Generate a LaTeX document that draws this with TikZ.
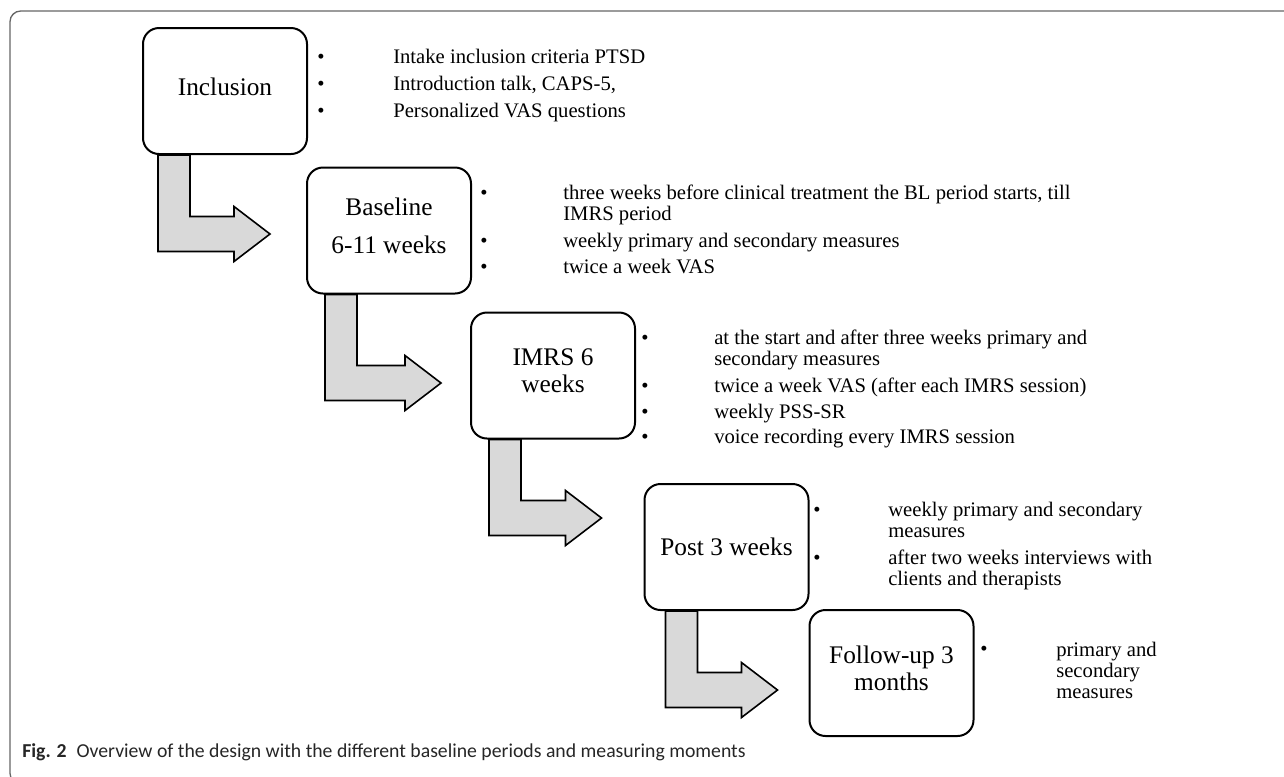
\documentclass[tikz,border=0pt]{standalone}
\usepackage{fontspec}
\setmainfont{Liberation Serif}
\newfontfamily\capfont{Carlito}
\usetikzlibrary{calc}
\newcommand\boxfont{\fontsize{19}{20}\selectfont}
\newcommand\itemfont{\fontsize{15.5}{15.8}\selectfont}
\newcommand\bitem[5]{%
  \node[bul] (#1b) at (#2,#4) {\textbullet};
  \node[itm] (#1) at (#3,#4) {#5};}
\newcommand\twolines[2]{\vtop{\hbox{\strut #1}\hbox{\strut #2}}}
\newcommand\bentarrow[4]{% start node, start offset, end node, tip offset
  \coordinate (S) at ($(#1.south west)+(#2,0)$);
  \coordinate (T) at ($(#3.west)+#4$);
  \draw[bent] (S) -- ($(S)+(32,0)$) -- ($(T -| S)+(32,-17.5)$)
    -- ($(T)+(-36,-17.5)$) -- ($(T)+(-36,-27.5)$) -- (T)
    -- ($(T)+(-36,27.5)$) -- ($(T)+(-36,17.5)$)
    -- ($(T -| S)+(0,17.5)$) -- cycle;}
\begin{document}
\begin{tikzpicture}[x=0.75pt,y=-0.75pt,
  box/.style={draw, line width=1.5pt, rounded corners=12pt, minimum width=123pt,
    minimum height=94.5pt, inner sep=0pt, align=center, font=\boxfont, fill=white,
    text depth=7pt},
  bent/.style={draw, fill=black!15, line width=1.2pt, line join=miter},
  bul/.style={anchor=base, inner sep=0pt, font=\itemfont},
  itm/.style={anchor=base west, inner sep=0pt, font=\itemfont},
  frame/.style={draw=black!60, line width=1pt, rounded corners=8pt}]
\useasboundingbox (0,0) rectangle (1284,776);
\begin{scope}
\clip (0,0) rectangle (1284,776);
\draw[frame] (1300,11) -- (10,11) -- (10,784) -- (1300,784);
\end{scope}
% boxes
\node[box] (inc)  at (225,91)    {Inclusion};
\node[box] (bl)   at (389,230.5) {Baseline\\[8.5pt]6-11 weeks};
\node[box] (imrs) at (553,375.5) {IMRS 6\\weeks};
\node[box, text depth=0pt] (post) at (726.5,547) {Post 3 weeks};
\node[box] (fu)   at (891.5,673) {Follow-up 3\\months};
% arrows
\bentarrow{inc}{16}{bl}{(-36,3.5)}
\bentarrow{bl}{19}{imrs}{(-29,7.5)}
\bentarrow{imrs}{19}{post}{(-42,-29)}
\bentarrow{post}{22}{fu}{(-31,17)}
% bullet lists
\bitem{i1}{321}{393}{63}{Intake inclusion criteria PTSD}
\bitem{i2}{321}{393}{90}{Introduction talk, CAPS-5,}
\bitem{i3}{321}{393}{117}{Personalized VAS questions}
\bitem{b1}{484}{563}{199}{\twolines{three weeks before clinical treatment the BL period starts, till}{IMRS period}}
\bitem{b2}{484}{563}{247}{weekly primary and secondary measures}
\bitem{b3}{484}{563}{273}{twice a week VAS}
\bitem{m1}{645}{714}{344}{\twolines{at the start and after three weeks primary and}{secondary measures}}
\bitem{m2}{645}{714}{392}{twice a week VAS (after each IMRS session)}
\bitem{m3}{645}{714}{418}{weekly PSS-SR}
\bitem{m4}{645}{714}{443}{voice recording every IMRS session}
\bitem{p1}{817}{888}{516}{\twolines{weekly primary and secondary}{measures}}
\bitem{p2}{817}{888}{564}{\twolines{after two weeks interviews with}{clients and therapists}}
\node[bul] (f1b) at (984,655) {\textbullet};
\node[itm] (f1) at (1056,656) {\vtop{\hbox{\strut primary and}\hbox{\strut secondary}\hbox{\strut measures}}};
% caption
\node[anchor=base west, inner sep=0pt, font=\capfont\fontsize{14.8}{16}\selectfont, text=black!85] (cap) at (22,757)
  {\textbf{Fig. 2}\enspace Overview of the design with the different baseline periods and measuring moments};
\end{tikzpicture}
\end{document}
